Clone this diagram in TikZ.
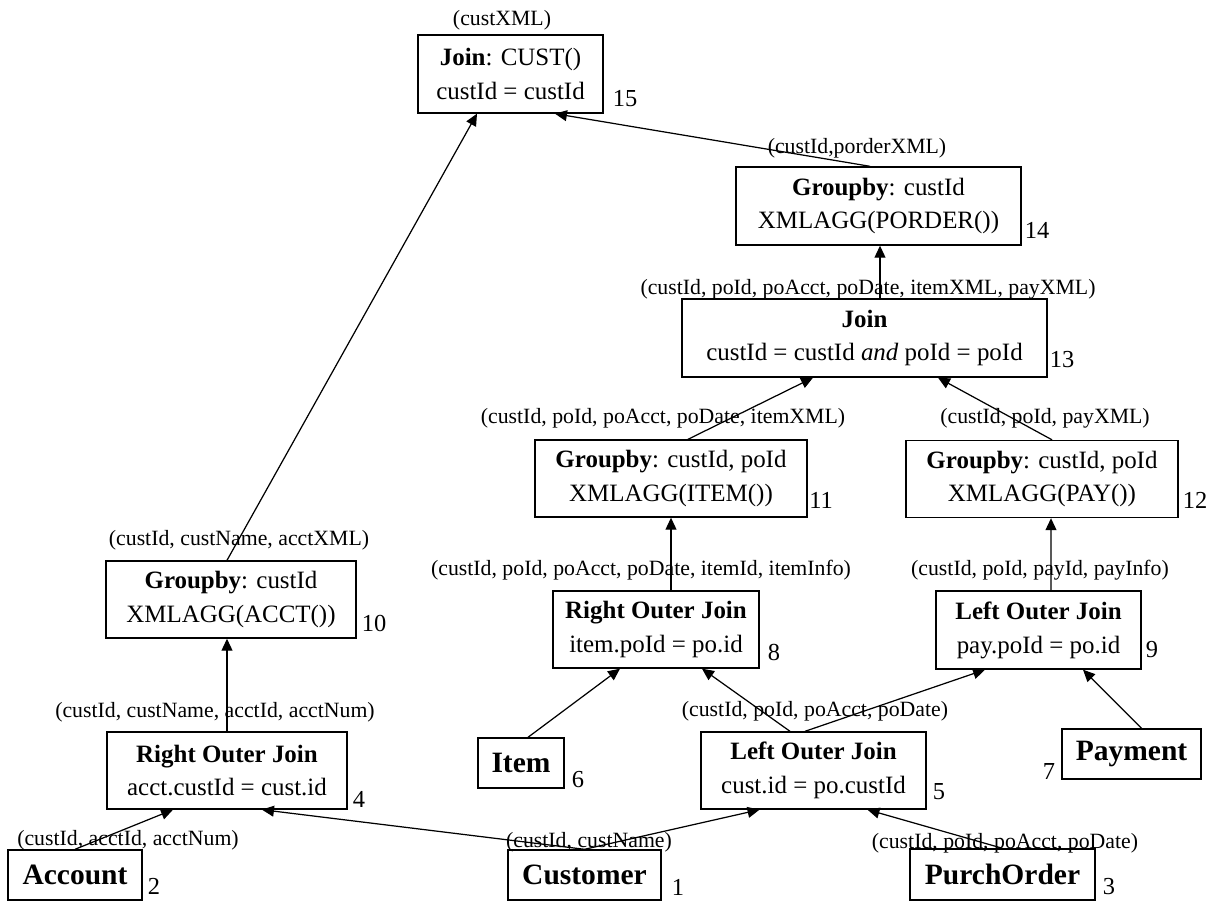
\documentclass[tikz,border=0pt]{standalone}
\usepackage{fontspec}
\setmainfont{Liberation Serif}
\usetikzlibrary{arrows.meta,calc}

% font sizes for operator boxes, attribute lists, step numbers and source tables
\newcommand\fOp{\fontsize{14.2}{19.3}\selectfont}
\newcommand\fAttr{\fontsize{12.4}{14}\selectfont}
\newcommand\fNum{\fontsize{13.9}{16}\selectfont}
\newcommand\fSrc{\fontsize{16.8}{20}\selectfont\bfseries}

\tikzset{
  opbox/.style={draw, line width=0.8pt, inner sep=0pt, align=center, font=\fOp},
  srcbox/.style={draw, line width=0.8pt, inner sep=0pt, font=\fSrc},
  attr/.style={inner sep=0pt, font=\fAttr},
  stepnum/.style={inner sep=0pt, font=\fNum},
  flow/.style={line width=0.7pt, -{Triangle[length=6.8pt,width=6.2pt]}},
}

\begin{document}
\begin{tikzpicture}[x=0.02cm, y=-0.02cm]
\useasboundingbox (0,0) rectangle (1217,901);

% operator boxes
\node[opbox, minimum width=3.70cm, minimum height=1.56cm] (j15) at (510.5,74) {\textbf{Join}: CUST()\\custId = custId};
\node[opbox, minimum width=5.70cm, minimum height=1.56cm] (g14) at (878.5,206) {\textbf{Groupby}: custId\\XMLAGG(PORDER())};
\node[opbox, minimum width=7.30cm, minimum height=1.56cm] (j13) at (864.5,338) {\textbf{Join}\\custId = custId \textit{and} poId = poId};
\node[opbox, minimum width=5.44cm, minimum height=1.54cm] (g11) at (671,478.5) {\textbf{Groupby}: custId, poId\\XMLAGG(ITEM())};
\node[opbox, minimum width=5.44cm, minimum height=1.54cm] (g12) at (1042,479) {\textbf{Groupby}: custId, poId\\XMLAGG(PAY())};
\node[opbox, minimum width=5.00cm, minimum height=1.54cm] (g10) at (231,599.5) {\textbf{Groupby}: custId\\XMLAGG(ACCT())};
\node[opbox, minimum width=4.12cm, minimum height=1.54cm] (r8) at (656,629.5) {\textbf{Right Outer Join}\\item.poId = po.id};
\node[opbox, minimum width=4.10cm, minimum height=1.56cm] (l9) at (1038.5,630) {\textbf{Left Outer Join}\\pay.poId = po.id};
\node[opbox, minimum width=4.80cm, minimum height=1.54cm] (r4) at (227,770.5) {\textbf{Right Outer Join}\\acct.custId = cust.id};
\node[opbox, minimum width=4.50cm, minimum height=1.54cm] (l5) at (813.5,770.5) {\textbf{Left Outer Join}\\cust.id = po.custId};

% source tables
\node[srcbox, minimum width=1.72cm, minimum height=1.00cm] (item) at (521,763) {Item};
\node[srcbox, minimum width=2.78cm, minimum height=1.00cm] (pay) at (1131.5,754) {Payment};
\node[srcbox, minimum width=2.68cm, minimum height=1.00cm] (acct) at (75,875) {Account};
\node[srcbox, minimum width=3.06cm, minimum height=1.00cm] (cust) at (584.5,875) {Customer};
\node[srcbox, minimum width=3.70cm, minimum height=1.02cm] (po) at (1002.5,874.5) {PurchOrder};

% step numbers
\node[stepnum] (n15) at (625,99) {15};
\node[stepnum] (n14) at (1037,230) {14};
\node[stepnum] (n13) at (1062,360) {13};
\node[stepnum] (n11) at (821,500) {11};
\node[stepnum] (n12) at (1195,500) {12};
\node[stepnum] (n10) at (374,623) {10};
\node[stepnum] (n8) at (774,652) {8};
\node[stepnum] (n9) at (1152,650) {9};
\node[stepnum] (n4) at (359,799) {4};
\node[stepnum] (n5) at (939,792) {5};
\node[stepnum] (n6) at (578,780) {6};
\node[stepnum] (n7) at (1049,772) {7};
\node[stepnum] (n2) at (154,886) {2};
\node[stepnum] (n1) at (678,887) {1};
\node[stepnum] (n3) at (1109,887) {3};

% output attribute lists
\node[attr] (a15) at (502,20) {(custXML)};
\node[attr] (a14) at (857,148) {(custId,porderXML)};
\node[attr] (a13) at (868,289) {(custId, poId, poAcct, poDate, itemXML, payXML)};
\node[attr] (a11) at (663,418) {(custId, poId, poAcct, poDate, itemXML)};
\node[attr] (a12) at (1045,418) {(custId, poId, payXML)};
\node[attr] (a10) at (239,540) {(custId, custName, acctXML)};
\node[attr] (a8) at (641,570) {(custId, poId, poAcct, poDate, itemId, itemInfo)};
\node[attr] (a9) at (1040,570) {(custId, poId, payId, payInfo)};
\node[attr] (a4) at (215,712) {(custId, custName, acctId, acctNum)};
\node[attr] (a5) at (815,711) {(custId, poId, poAcct, poDate)};
\node[attr] (a2) at (128,840) {(custId, acctId, acctNum)};
\node[attr] (a1) at (589,842) {(custId, custName)};
\node[attr] (a3) at (1005,843) {(custId, poId, poAcct, poDate)};

% data flow
\draw[flow] (acct.north) -- ($(r4.south)+(-54,0)$);
\draw[flow] (cust.north) -- ($(r4.south)+(35,0)$);
\draw[flow] (cust.north) -- ($(l5.south)+(-54,0)$);
\draw[flow] (po.north) -- ($(l5.south)+(54,0)$);
\draw[flow] ($(item.north)+(7,0)$) -- ($(r8.south)+(-36,0)$);
\draw[flow] ($(l5.north)+(-23.5,0)$) -- ($(r8.south)+(46,0)$);
\draw[flow] ($(l5.north)+(-8.5,0)$) -- ($(l9.south)+(-53.5,0)$);
\draw[flow] ($(pay.north)+(10,0)$) -- ($(l9.south)+(44.5,0)$);
\draw[flow] ($(r8.north)+(15,0)$) -- (g11.south);
\draw[flow] ($(l9.north)+(12.5,0)$) -- ($(g12.south)+(9,0)$);
\draw[flow] (r4.north) -- ($(g10.south)+(-4,0)$);
\draw[flow] ($(g10.north)+(-4,0)$) -- ($(j15.south)+(-33.5,0)$);
\draw[flow] ($(g11.north)+(17,0)$) -- ($(j13.south)+(-51.5,0)$);
\draw[flow] ($(g12.north)+(10,0)$) -- ($(j13.south)+(73.5,0)$);
\draw[flow] ($(j13.north)+(15.5,0)$) -- ($(g14.south)+(1.5,0)$);
\draw[flow] ($(g14.north)+(-8.5,0)$) -- ($(j15.south)+(44.5,0)$);
\end{tikzpicture}
\end{document}
